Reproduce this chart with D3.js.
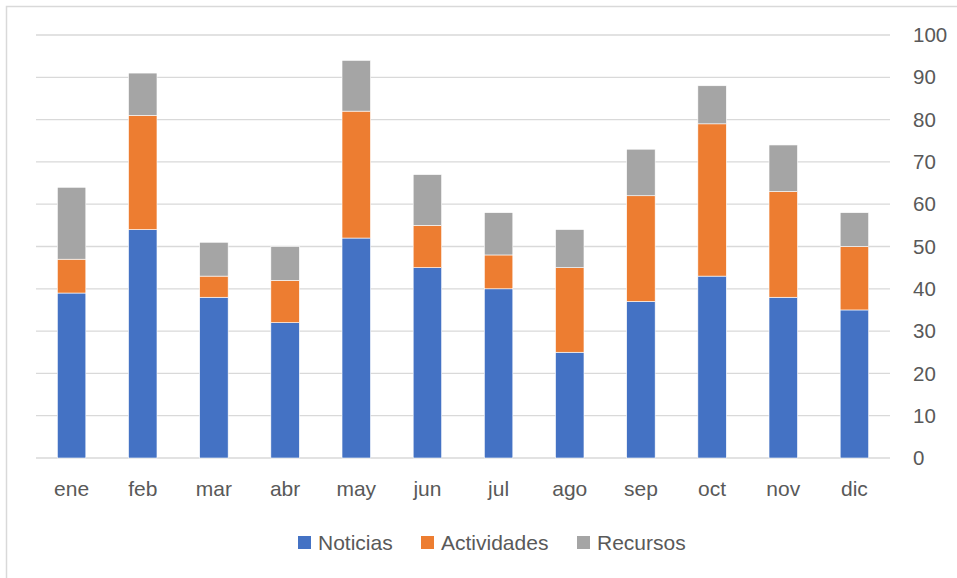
<!DOCTYPE html>
<html>
<head>
<meta charset="utf-8">
<script src="https://cdn.jsdelivr.net/npm/d3@7"></script>
<style>
  body { margin: 0; background: #fff; }
  svg { display: block; font-family: "Liberation Sans", Arial, sans-serif; }
</style>
</head>
<body>
<svg id="chart" width="957" height="578"></svg>
<script>
// data
const months = ["ene", "feb", "mar", "abr", "may", "jun", "jul", "ago", "sep", "oct", "nov", "dic"];
const noticias    = [39, 54, 38, 32, 52, 45, 40, 25, 37, 43, 38, 35];
const actividades = [ 8, 27,  5, 10, 30, 10,  8, 20, 25, 36, 25, 15];
const recursos    = [17, 10,  8,  8, 12, 12, 10,  9, 11,  9, 11,  8];
const seriesNames = ["Noticias", "Actividades", "Recursos"];
const colors = ["#4472c4", "#ed7d31", "#a5a5a5"];
const yTicks = [0, 10, 20, 30, 40, 50, 60, 70, 80, 90, 100];

const svg = d3.select("#chart");
const W = 957, H = 578;
const plot = { left: 36, right: 890, top: 35, bottom: 458 };

// chart border
svg.append("rect")
  .attr("x", 6.5).attr("y", 6.5)
  .attr("width", W).attr("height", H)
  .attr("fill", "none").attr("stroke", "#d9d9d9").attr("stroke-width", 1.5);

const x = d3.scaleBand().domain(months).range([plot.left, plot.right]).paddingInner(0.6).paddingOuter(0.3);
const y = d3.scaleLinear().domain([0, 100]).range([plot.bottom, plot.top]);

// grid
svg.append("g").selectAll("line").data(yTicks).join("line")
  .attr("x1", plot.left).attr("x2", plot.right)
  .attr("y1", d => y(d)).attr("y2", d => y(d))
  .attr("stroke", "#d9d9d9").attr("stroke-width", 1.3);

// stacked bars
const rows = months.map((m, i) => ({ month: m, Noticias: noticias[i], Actividades: actividades[i], Recursos: recursos[i] }));
const stacked = d3.stack().keys(seriesNames)(rows);

svg.append("g").selectAll("g").data(stacked).join("g")
  .attr("fill", (d, i) => colors[i])
  .selectAll("rect").data(d => d).join("rect")
    .attr("x", d => x(d.data.month))
    .attr("width", x.bandwidth())
    .attr("y", d => y(d[1]))
    .attr("height", d => y(d[0]) - y(d[1]))
    .attr("stroke", "#fff").attr("stroke-width", 0.6);

// right axis labels
svg.append("g").selectAll("text").data(yTicks).join("text")
  .attr("x", 913).attr("y", d => y(d)).attr("dy", "0.35em")
  .attr("font-size", 20.5).attr("fill", "#595959")
  .text(d => d);

// month labels
svg.append("g").selectAll("text").data(months).join("text")
  .attr("x", d => x(d) + x.bandwidth() / 2).attr("y", 496)
  .attr("text-anchor", "middle").attr("font-size", 21).attr("fill", "#595959")
  .text(d => d);

// legend
const legendX = [298, 421, 577];
const lg = svg.append("g").selectAll("g").data(seriesNames).join("g")
  .attr("transform", (d, i) => `translate(${legendX[i]},536)`);
lg.append("rect").attr("width", 13).attr("height", 13).attr("fill", (d, i) => colors[i]);
lg.append("text").attr("x", 20).attr("y", 13.5).attr("font-size", 21).attr("fill", "#595959").text(d => d);
</script>
</body>
</html>
